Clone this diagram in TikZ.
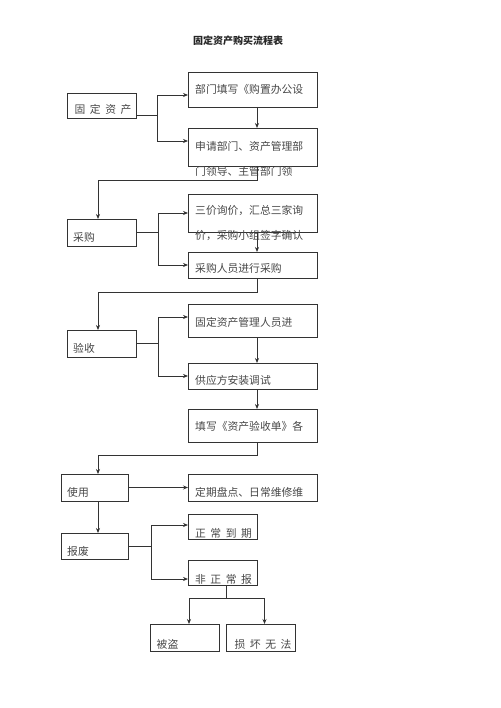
\documentclass[tikz,border=0pt]{standalone}
\usepackage{fontspec}
\setmainfont{Noto Sans CJK SC}
\usetikzlibrary{positioning,arrows.meta}

\newcommand{\gap}{\hspace{4.5pt}}

\tikzset{
	box/.style={draw=black!80, line width=0.9pt, inner sep=0pt, outer sep=0pt},
	wide/.style={minimum width=129pt},
	narrow/.style={minimum width=69pt},
	txt/.style={anchor=west, inner sep=0pt, text=black!72, font=\fontsize{10.8}{12}\selectfont},
	txttwo/.style={txt, align=left, font=\fontsize{10.8}{25}\selectfont},
	line/.style={draw=black!80, line width=0.75pt},
	arr/.style={line, -{Stealth[length=5pt,width=4pt]}},
}

\begin{document}
\begin{tikzpicture}[x=1pt, y=-1pt]
		\useasboundingbox (0,0) rectangle (500,708);
		\node[font=\bfseries\fontsize{10}{12}\selectfont, text=black!85] (title) at (238,41) {固定资产购买流程表};
		% Define nodes
		\node[box, narrow, minimum height=25pt] (fa) at (102,105.5) {};
		\node[box, wide, minimum height=35pt] (fill) at (252.5,89.5) {};
		\node[box, wide, minimum height=38pt, below = 21pt of fill] (apply) {};
		\node[box, narrow, minimum height=27pt] (buy) at (101.5,232.5) {};
		\node[box, wide, minimum height=38pt] (quote) at (252.5,213) {};
		\node[box, wide, minimum height=26pt, below = 20pt of quote] (purch) {};
		\node[box, narrow, minimum height=27pt] (check) at (101.5,343.5) {};
		\node[box, wide, minimum height=33pt] (mgr) at (252.5,320.5) {};
		\node[box, wide, minimum height=26pt, below = 26pt of mgr] (inst) {};
		\node[box, wide, minimum height=33pt, below = 20pt of inst] (form) {};
		\node[box, minimum width=67pt, minimum height=27pt] (use) at (94.5,487.5) {};
		\node[box, wide, minimum height=27pt] (maint) at (252.5,487.5) {};
		\node[box, minimum width=67pt, minimum height=26pt, below = 32pt of use] (scrap) {};
		\node[box, narrow, minimum height=25pt] (due) at (222.5,526.5) {};
		\node[box, narrow, minimum height=25pt, below = 21pt of due] (abn) {};
		\node[box, narrow, minimum height=27pt] (stolen) at (185,637.5) {};
		\node[box, narrow, minimum height=27pt, right = 7pt of stolen] (broken) {};
		% Texts
		\node[txt] (fa-t) at ([xshift=7pt,yshift=-3.5pt]fa.west) {固\gap 定\gap 资\gap 产};
		\node[txt] (fill-t) at ([xshift=7pt]fill.west) {部门填写《购置办公设};
		\node[txttwo] (apply-t) at ([xshift=7pt,yshift=-11.5pt]apply.west) {申请部门、资产管理部\\门领导、主管部门领};
		\node[txt] (buy-t) at ([xshift=6pt,yshift=-4.5pt]buy.west) {采购};
		\node[txttwo] (quote-t) at ([xshift=7pt,yshift=-10.5pt]quote.west) {三价询价，汇总三家询\\价，采购小组签字确认};
		\node[txt] (purch-t) at ([xshift=7pt,yshift=-3pt]purch.west) {采购人员进行采购};
		\node[txt] (check-t) at ([xshift=6pt,yshift=-4.5pt]check.west) {验收};
		\node[txt] (mgr-t) at ([xshift=7pt,yshift=-1.5pt]mgr.west) {固定资产管理人员进};
		\node[txt] (inst-t) at ([xshift=7pt,yshift=-4pt]inst.west) {供应方安装调试};
		\node[txt] (form-t) at ([xshift=7pt,yshift=-0.5pt]form.west) {填写《资产验收单》各};
		\node[txt] (use-t) at ([xshift=6pt,yshift=-4.5pt]use.west) {使用};
		\node[txt] (maint-t) at ([xshift=7pt,yshift=-4.5pt]maint.west) {定期盘点、日常维修维};
		\node[txt] (scrap-t) at ([xshift=6pt,yshift=-5pt]scrap.west) {报废};
		\node[txt] (due-t) at ([xshift=7pt,yshift=-6.5pt]due.west) {正\gap 常\gap 到\gap 期};
		\node[txt] (abn-t) at ([xshift=7pt,yshift=-6.5pt]abn.west) {非\gap 正\gap 常\gap 报};
		\node[txt] (stolen-t) at ([xshift=6pt,yshift=-6.5pt]stolen.west) {被盗};
		\node[txt] (broken-t) at ([xshift=8pt,yshift=-6.5pt]broken.west) {损\gap 坏\gap 无\gap 法};
		% Edges
		\draw[line] ([yshift=-10pt]fa.east) -- ++(21,0) coordinate (j1);
		\draw[arr] (j1) |- ([yshift=-5.5pt]fill.west);
		\draw[arr] (j1) |- ([yshift=6pt]apply.west);
		\draw[arr] ([xshift=4.5pt]fill.south) -- ([xshift=4.5pt]apply.north);
		\draw[arr] ([xshift=4.5pt]apply.south) -- ++(0,14) -| ([xshift=-3.5pt]buy.north);
		\draw[line] (buy.east) -- ++(22,0) coordinate (j2);
		\draw[arr] (j2) |- (quote.west);
		\draw[arr] (j2) |- (purch.west);
		\draw[arr] ([xshift=4.5pt]quote.south) -- ([xshift=4.5pt]purch.north);
		\draw[arr] ([xshift=4.5pt]purch.south) -- ++(0,14) -| ([xshift=-3.5pt]check.north);
		\draw[line] (check.east) -- ++(22,0) coordinate (j3);
		\draw[arr] (j3) |- ([yshift=3.5pt]mgr.west);
		\draw[arr] (j3) |- (inst.west);
		\draw[arr] ([xshift=4.5pt]mgr.south) -- ([xshift=4.5pt]inst.north);
		\draw[arr] ([xshift=4.5pt]inst.south) -- ([xshift=4.5pt]form.north);
		\draw[arr] ([xshift=4.5pt]form.south) -- ++(0,13) -| ([xshift=3.5pt]use.north);
		\draw[arr] (use.east) -- (use.east -| maint.west);
		\draw[arr] ([xshift=3.5pt]use.south) -- ([xshift=3.5pt]scrap.north);
		\draw[line] (scrap.east) -- ++(23,0) coordinate (j4);
		\draw[arr] (j4) |- ([yshift=1.5pt]due.west);
		\draw[arr] (j4) |- ([yshift=-6.5pt]abn.west);
		\draw[line] ([xshift=3.5pt]abn.south) -- ++(0,13) coordinate (j5);
		\draw[arr] (j5) -| ([xshift=4pt]stolen.north);
		\draw[arr] (j5) -| ([xshift=3.5pt]broken.north);
\end{tikzpicture}
\end{document}
